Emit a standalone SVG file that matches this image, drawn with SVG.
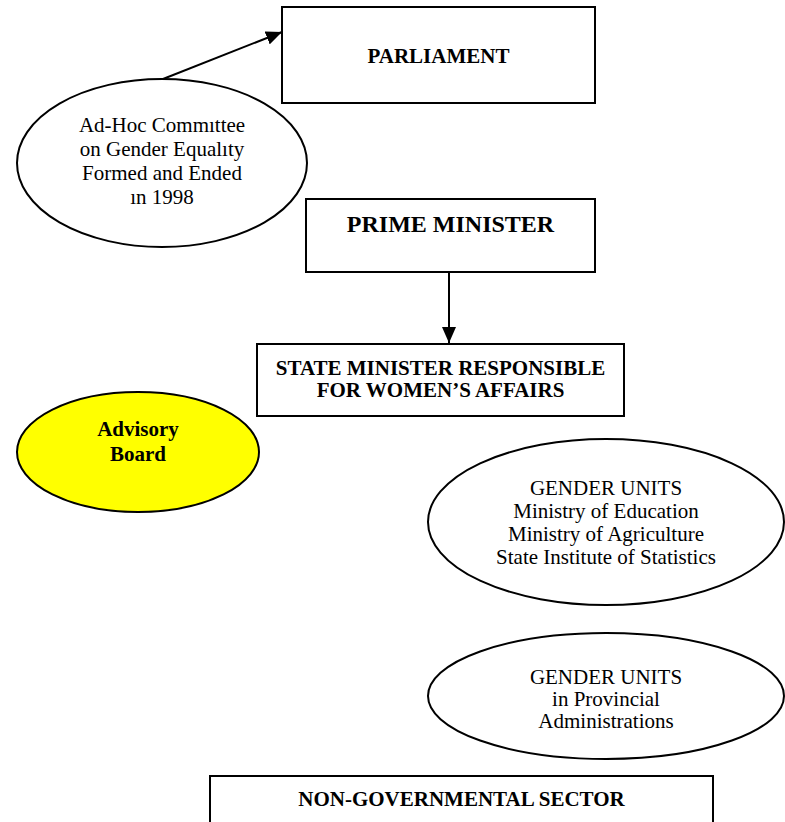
<svg xmlns="http://www.w3.org/2000/svg" width="785" height="822" viewBox="0 0 785 822">
<defs>
<style>
.box{fill:#fff;stroke:#000;stroke-width:2}
.ell{fill:#fff;stroke:#000;stroke-width:2}
.yel{fill:#ffff00;stroke:#000;stroke-width:2}
text{font-family:'Liberation Serif','Times New Roman',serif;text-anchor:middle;fill:#000;font-size:21px}
.b{font-weight:bold}
.big{font-size:24px}
.conn{stroke:#000;stroke-width:2;fill:none}
</style>
<marker id="ah2" viewBox="0 0 16 14" refX="16" refY="7" markerWidth="16" markerHeight="14" markerUnits="userSpaceOnUse" orient="auto">
<path d="M0,0 L16,7 L0,14 z" fill="#000"/>
</marker>
</defs>
<rect width="785" height="822" fill="#fff"/>
<g id="parliament">
<rect class="box" x="282" y="7" width="313" height="96"/>
<text class="b" x="438.5" y="63">PARLIAMENT</text>
</g>
<g id="adhoc">
<ellipse class="ell" cx="162" cy="163" rx="145" ry="84"/>
<text x="162" y="132">Ad-Hoc Commıttee</text>
<text x="162" y="156">on Gender Equalıty</text>
<text x="162" y="180">Formed and Ended</text>
<text x="162" y="204">ın 1998</text>
</g>
<g id="prime">
<rect class="box" x="306" y="199" width="289" height="73"/>
<text class="b big" x="450.5" y="232">PRIME MINISTER</text>
</g>
<g id="state">
<rect class="box" x="257" y="344" width="367" height="72"/>
<text class="b" x="440.5" y="375">STATE MINISTER RESPONSIBLE</text>
<text class="b" x="440.5" y="397">FOR WOMEN’S AFFAIRS</text>
</g>
<g id="advisory">
<ellipse class="yel" cx="138" cy="452" rx="121" ry="60"/>
<text class="b" x="138" y="436">Advisory</text>
<text class="b" x="138" y="461">Board</text>
</g>
<g id="gender1">
<ellipse class="ell" cx="606" cy="522" rx="178" ry="83"/>
<text x="606" y="495">GENDER UNITS</text>
<text x="606" y="518">Ministry of Education</text>
<text x="606" y="541">Ministry of Agriculture</text>
<text x="606" y="564">State Institute of Statistics</text>
</g>
<g id="gender2">
<ellipse class="ell" cx="606" cy="696" rx="178" ry="63"/>
<text x="606" y="684">GENDER UNITS</text>
<text x="606" y="706">in Provincial</text>
<text x="606" y="728">Administrations</text>
</g>
<g id="ngo">
<rect class="box" x="210" y="776" width="503" height="60"/>
<text class="b" x="461.5" y="806">NON-GOVERNMENTAL SECTOR</text>
</g>
<g id="connectors">
<line class="conn" x1="163" y1="79" x2="282" y2="32" marker-end="url(#ah2)"/>
<line class="conn" x1="449" y1="272" x2="449" y2="343" marker-end="url(#ah2)"/>
</g>
</svg>
